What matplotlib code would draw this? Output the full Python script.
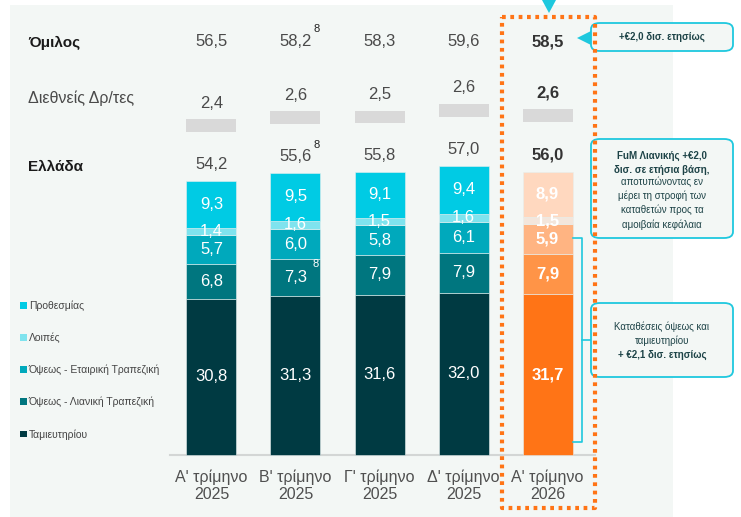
import matplotlib
matplotlib.use("Agg")
import matplotlib.pyplot as plt
from matplotlib.patches import Rectangle, FancyBboxPatch, Polygon
from matplotlib.lines import Line2D
from matplotlib.patches import Patch

plt.rcParams['font.family'] = ['Liberation Sans', 'DejaVu Sans']

quarters = ["Α' τρίμηνο\n2025", "Β' τρίμηνο\n2025", "Γ' τρίμηνο\n2025",
            "Δ' τρίμηνο\n2025", "Α' τρίμηνο\n2026"]
tamieutiriou = [30.8, 31.3, 31.6, 32.0, 31.7]
lianiki = [6.8, 7.3, 7.9, 7.9, 7.9]
etairiki = [5.7, 6.0, 5.8, 6.1, 5.9]
loipes = [1.4, 1.6, 1.5, 1.6, 1.5]
prothesmias = [9.3, 9.5, 9.1, 9.4, 8.9]
ellada = [54.2, 55.6, 55.8, 57.0, 56.0]
diethneis = [2.4, 2.6, 2.5, 2.6, 2.6]
omilos = [56.5, 58.2, 58.3, 59.6, 58.5]

series = [tamieutiriou, lianiki, etairiki, loipes, prothesmias]
names = ["Ταμιευτηρίου", "Όψεως - Λιανική Τραπεζική", "Όψεως - Εταιρική Τραπεζική",
         "Λοιπές", "Προθεσμίας"]
teal = ["#003a42", "#00767f", "#00a9bc", "#7fe3ee", "#00cbe4"]
orange = ["#ff7416", "#ff9447", "#ffb482", "#f3e6dc", "#ffd8bf"]

W, H = 741, 517
fig = plt.figure(figsize=(W / 100, H / 100), dpi=100)
fig.patch.set_facecolor("white")


def px(x, y):
    return (x / W, 1 - y / H)


# light panel
fig.patches.append(Rectangle(px(10, 517), 663 / W, 512 / H, transform=fig.transFigure,
                             facecolor="#f3f7f5", edgecolor="none", zorder=-10))

ax = fig.add_axes([0, 0, 1, 1])
ax.set_facecolor("none")
ppu = 5.07
ax.set_xlim(-211.5 / 84, (W - 211.5) / 84)
ax.set_ylim(-(H - 455) / ppu, 455 / ppu)
ax.axis("off")

x = list(range(len(quarters)))
bw = 50 / 84
bottoms = [0] * 5
for k, vals in enumerate(series):
    for i in x:
        col = orange[k] if i == 4 else teal[k]
        ax.bar(i, vals[i], bw, bottom=bottoms[i], color=col, edgecolor="#e6efee",
               linewidth=0.4, zorder=2)
        cy = bottoms[i] + vals[i] / 2
        lbl = f"{vals[i]:.1f}".replace(".", ",")
        ax.text(i, cy, lbl, ha="center", va="center", color="white", fontsize=12,
                fontweight="bold" if i == 4 else "normal", zorder=4)
    bottoms = [bottoms[i] + vals[i] for i in x]

# international grey blocks
gap = 9.6
for i in x:
    dark = "#333333" if i == 4 else "#4a4a4a"
    fw = "bold" if i == 4 else "normal"
    ax.bar(i, diethneis[i], bw, bottom=ellada[i] + gap, color="#d9d9d9", zorder=2)
    ax.text(i, ellada[i] + gap + diethneis[i] + 3.2, f"{diethneis[i]:.1f}".replace(".", ","),
            ha="center", va="center", fontsize=12, color=dark, fontweight=fw)
    ax.text(i, bottoms[i] + 3.2, f"{ellada[i]:.1f}".replace(".", ","),
            ha="center", va="center", fontsize=12, color=dark, fontweight=fw)
    ax.text(i, 81.5, f"{omilos[i]:.1f}".replace(".", ","),
            ha="center", va="center", fontsize=12, color=dark, fontweight=fw)
    ax.text(i, -6.0, quarters[i], ha="center", va="center", fontsize=11.5,
            color="#505050", linespacing=1.15)

# footnote marks
ax.text(1.25, 84.0, "8", fontsize=8, color="#222222", ha="center", va="center")
ax.text(1.25, 61.2, "8", fontsize=8, color="#222222", ha="center", va="center")
ax.text(1.24, 37.7, "8", fontsize=8, color="white", ha="center", va="center", zorder=4)

# baseline
ax.plot([-0.49, 4.56], [0, 0], color="#d3d6d5", lw=1.5, zorder=1)

# row labels
fig.text(*px(28, 43), "Όμιλος", fontsize=11, fontweight="bold", color="#1a1a1a", va="center")
fig.text(*px(28, 98), "Διεθνείς Δρ/τες", fontsize=11.5, color="#4a4a4a", va="center")
fig.text(*px(28, 167), "Ελλάδα", fontsize=11, fontweight="bold", color="#1a1a1a", va="center")

# legend
handles = [Patch(facecolor=teal[k], edgecolor="none", label=names[k]) for k in range(4, -1, -1)]
fig.legend(handles=handles, loc="upper left", bbox_to_anchor=px(11, 291), frameon=False,
           fontsize=7.5, handlelength=0.6, handleheight=0.6, handletextpad=0.2,
           labelspacing=2.08, labelcolor="#444444")

# orange dotted highlight
ox0, oy0, ox1, oy1 = 502, 17, 595, 508
fig.add_artist(Line2D([ox0 / W, ox1 / W, ox1 / W, ox0 / W, ox0 / W],
                      [1 - oy0 / H, 1 - oy0 / H, 1 - oy1 / H, 1 - oy1 / H, 1 - oy0 / H],
                      transform=fig.transFigure, color="#ff7416", lw=3,
                      linestyle=(0, (0.9, 1.1)), zorder=5))

cyan = "#1ec8de"
fig.patches.append(Polygon([px(542, 0), px(556, 0), px(549, 13)], closed=True,
                           transform=fig.transFigure, facecolor=cyan, edgecolor="none"))
fig.patches.append(Polygon([px(577, 38), px(591, 31), px(591, 45)], closed=True,
                           transform=fig.transFigure, facecolor=cyan, edgecolor="none"))

# bracket
fig.add_artist(Line2D([573 / W, 582 / W, 582 / W, 573 / W],
                      [1 - 238 / H, 1 - 238 / H, 1 - 442 / H, 1 - 442 / H],
                      transform=fig.transFigure, color=cyan, lw=1.2))
fig.add_artist(Line2D([582 / W, 592 / W], [1 - 340 / H, 1 - 340 / H],
                      transform=fig.transFigure, color=cyan, lw=1.2))


def box(x0, y0, x1, y1):
    fig.patches.append(FancyBboxPatch(px(x0, y1), (x1 - x0) / W, (y1 - y0) / H,
                                      boxstyle="round,pad=0,rounding_size=0.012",
                                      transform=fig.transFigure, facecolor="#f3f7f5",
                                      edgecolor=cyan, lw=1.3, zorder=3))


txtc = "#1d4347"
box(591, 23, 733, 51)
fig.text(*px(662, 37), "+€2,0 δισ. ετησίως", fontsize=7, fontweight="bold", color=txtc,
         ha="center", va="center", zorder=6)

box(591, 139, 733, 238)
fig.text(*px(662, 163), "FuM Λιανικής +€2,0\nδισ. σε ετήσια βάση,", fontsize=7,
         fontweight="bold", color=txtc, ha="center", va="center", linespacing=1.45, zorder=6)
fig.text(*px(662, 203), "αποτυπώνοντας εν\nμέρει τη στροφή των\nκαταθετών προς τα\nαμοιβαία κεφάλαια",
         fontsize=7, color=txtc, ha="center", va="center", linespacing=1.45, zorder=6)

box(591, 303, 733, 377)
fig.text(*px(662, 334), "Καταθέσεις όψεως και\nταμιευτηρίου", fontsize=7, color=txtc,
         ha="center", va="center", linespacing=1.45, zorder=6)
fig.text(*px(662, 355), "+ €2,1 δισ. ετησίως", fontsize=7, fontweight="bold", color=txtc,
         ha="center", va="center", zorder=6)

fig.savefig("out.png", dpi=100, facecolor=fig.get_facecolor())
